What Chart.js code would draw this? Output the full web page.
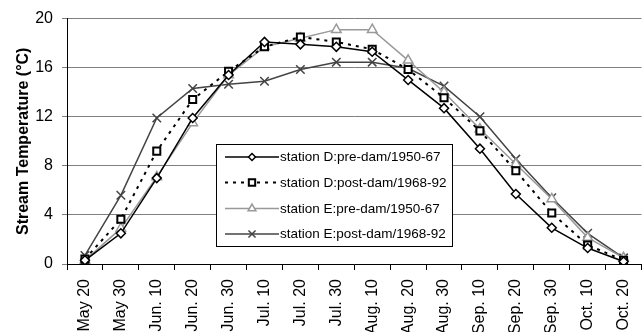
<!DOCTYPE html>
<html>
<head>
<meta charset="utf-8">
<script src="https://cdn.jsdelivr.net/npm/chart.js@4.4.1/dist/chart.umd.min.js"></script>
<style>
 html,body{margin:0;padding:0;background:#fff;overflow:hidden;}
 #wrap{width:652px;height:332px;}
</style>
</head>
<body>
<div id="wrap"><canvas id="c" width="652" height="332"></canvas></div>
<script>
const labels=["May 20","May 30","Jun. 10","Jun. 20","Jun. 30","Jul. 10","Jul. 20","Jul. 30","Aug. 10","Aug. 20","Aug. 30","Sep. 10","Sep. 20","Sep. 30","Oct. 10","Oct. 20"];

const dPre =[0.3,2.5,7.0,11.9,15.4,18.1,17.9,17.7,17.3,15.0,12.7,9.4,5.7,2.95,1.3,0.2];
const dPost=[0.4,3.65,9.2,13.4,15.7,17.7,18.5,18.1,17.5,15.85,13.55,10.85,7.6,4.15,1.55,0.3];
const ePre =[0.3,2.9,7.1,11.5,15.4,17.7,18.4,19.1,19.1,16.6,14.0,11.0,8.15,5.3,2.15,0.5];
const ePost=[0.7,5.6,11.9,14.3,14.65,14.9,15.85,16.45,16.45,15.95,14.5,12.0,8.55,5.4,2.5,0.5];

const yTicks=[0,4,8,12,16,20];

const FONT="'Liberation Sans', Arial, sans-serif";

const datasets=[
 {label:"station D:pre-dam/1950-67",data:dPre,borderColor:"#000",borderWidth:1.5,
  pointStyle:"rectRot",pointRadius:4.5,pointBackgroundColor:"#fff",pointBorderColor:"#000",pointBorderWidth:1.5,legendRadius:3.5},
 {label:"station D:post-dam/1968-92",data:dPost,borderColor:"#000",borderWidth:2,borderDash:[3,5],
  pointStyle:"rect",pointRadius:5,pointBackgroundColor:"#fff",pointBorderColor:"#000",pointBorderWidth:2,legendRadius:4.5},
 {label:"station E:pre-dam/1950-67",data:ePre,borderColor:"#999",borderWidth:1.5,
  pointStyle:"triangle",pointRadius:5.5,pointBackgroundColor:"#fff",pointBorderColor:"#999",pointBorderWidth:1.5,legendRadius:4.5},
 {label:"station E:post-dam/1968-92",data:ePost,borderColor:"#444",borderWidth:1.5,
  pointStyle:"crossRot",pointRadius:6,pointBackgroundColor:"#444",pointBorderColor:"#444",pointBorderWidth:1.5,legendRadius:5}
];

/* legend box inside the plot */
const boxLegend={
 id:"boxLegend",
 afterDatasetsDraw(chart){
  const ctx=chart.ctx;
  const x0=216,y0=144,w=236,h=102;
  ctx.save();
  ctx.fillStyle="#fff";
  ctx.fillRect(x0,y0,w,h);
  ctx.strokeStyle="#000";
  ctx.lineWidth=1;
  ctx.strokeRect(x0+0.5,y0+0.5,w,h);
  const rows=[157,182.5,208.5,234];
  chart.data.datasets.forEach((ds,i)=>{
   const y=rows[i];
   ctx.save();
   ctx.strokeStyle=ds.borderColor;
   ctx.lineWidth=ds.borderWidth;
   ctx.setLineDash(ds.borderDash||[]);
   ctx.beginPath();
   ctx.moveTo(225,y);ctx.lineTo(279,y);
   ctx.stroke();
   ctx.setLineDash([]);
   ctx.fillStyle=ds.pointBackgroundColor;
   ctx.strokeStyle=ds.pointBorderColor;
   ctx.lineWidth=ds.pointBorderWidth;
   Chart.helpers.drawPoint(ctx,{pointStyle:ds.pointStyle,radius:ds.legendRadius,rotation:0,borderWidth:ds.pointBorderWidth},252,y);
   ctx.restore();
   ctx.fillStyle="#000";
   ctx.font="13.5px "+FONT;
   ctx.textBaseline="middle";
   ctx.fillText(ds.label,280,y+0.5);
  });
  ctx.restore();
 }
};

new Chart(document.getElementById("c"),{
 type:"line",
 data:{labels,datasets},
 plugins:[boxLegend],
 options:{
  responsive:false,
  animation:false,
  layout:{padding:{top:17,right:4,left:0,bottom:0}},
  plugins:{legend:{display:false},tooltip:{enabled:false}},
  elements:{line:{tension:0}},
  scales:{
   x:{
    offset:true,
    grid:{offset:true,drawOnChartArea:false,color:"#000",tickLength:6,tickColor:"#000"},
    border:{color:"#000",width:1},
    ticks:{minRotation:90,maxRotation:90,autoSkip:false,color:"#000",font:{family:FONT,size:16},padding:9},
    afterFit(s){s.height=68;}
   },
   y:{
    min:0,max:20,
    afterBuildTicks(s){s.ticks=yTicks.map(v=>({value:v}));},
    grid:{color:"#808080",lineWidth:1,tickLength:5,tickColor:"#808080"},
    border:{color:"#000",width:1},
    ticks:{color:"#000",font:{family:FONT,size:16},padding:9},
    title:{display:true,text:"Stream Temperature (°C)",color:"#000",font:{family:FONT,size:16,weight:"bold"},padding:{top:14,bottom:0}},
    afterFit(s){s.width=67;}
   }
  }
 }
});
</script>
</body>
</html>
